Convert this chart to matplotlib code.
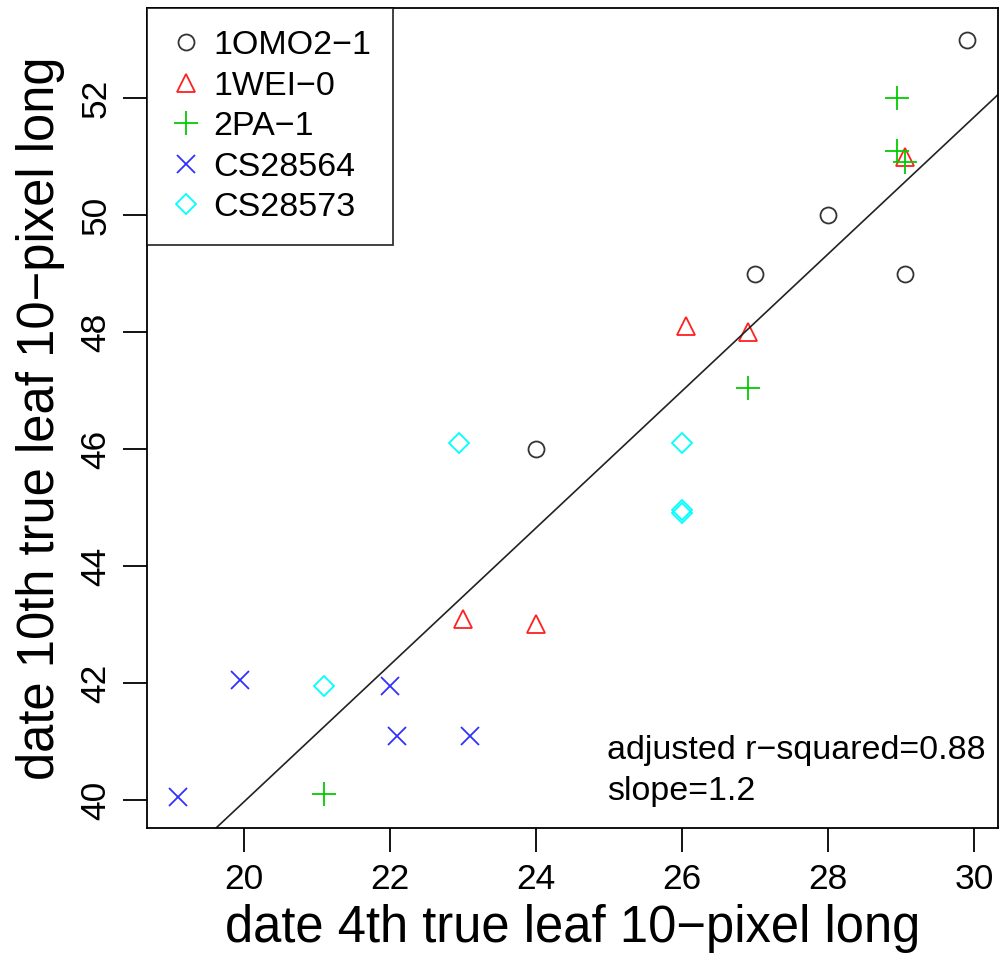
import numpy as np
import matplotlib
matplotlib.use('Agg')
from matplotlib import pyplot as plt
from matplotlib.lines import Line2D

plt.rcParams['font.family'] = ['Liberation Sans', 'DejaVu Sans']

# data
groups = ['1OMO2-1', '1WEI-0', '2PA-1', 'CS28564', 'CS28573']
x_omo = [24.0, 27.0, 28.0, 29.05, 29.9]
y_omo = [46.0, 49.0, 50.0, 49.0, 53.0]
x_wei = [23.0, 24.0, 26.05, 26.9, 29.05]
y_wei = [43.1, 43.0, 48.1, 48.0, 51.0]
x_pa = [21.1, 26.9, 28.95, 28.95, 29.05]
y_pa = [40.1, 47.05, 52.0, 51.1, 50.9]
x_cs64 = [19.1, 19.95, 22.0, 22.1, 23.1]
y_cs64 = [40.05, 42.05, 41.95, 41.1, 41.1]
x_cs73 = [21.1, 22.95, 26.0, 26.0, 26.0]
y_cs73 = [41.95, 46.1, 46.1, 44.95, 44.9]
xticks = [20, 22, 24, 26, 28, 30]
yticks = [40, 42, 44, 46, 48, 50, 52]

xs = [x_omo, x_wei, x_pa, x_cs64, x_cs73]
ys = [y_omo, y_wei, y_pa, y_cs64, y_cs73]
colors = ['#333333', '#FF2020', '#00CD00', '#3030FF', '#00FFFF']
markers = ['o', '^', '+', 'x', 'D']
msizes = [11.5, 13.5, 17, 12.5, 10]

fig = plt.figure(figsize=(10, 9.61), dpi=100)
ax = fig.add_axes([0.147, 0.1384, 0.851, 0.8533])

for x, y, c, m, s, g in zip(xs, ys, colors, markers, msizes, groups):
    ax.plot(x, y, linestyle='none', marker=m, markersize=s,
            markerfacecolor='none', markeredgecolor=c, markeredgewidth=1.3, label=g)

# regression line over all points
allx = np.concatenate([np.array(v) for v in xs])
ally = np.concatenate([np.array(v) for v in ys])
b, a = np.polyfit(allx, ally, 1)
lx = np.array([18.0, 31.0])
ax.plot(lx, a + b * lx, color='#222222', linewidth=1.2)

ax.set_xlim(18.67, 30.33)
ax.set_ylim(39.52, 53.54)
ax.set_xticks(xticks)
ax.set_yticks(yticks)
ax.tick_params(axis='both', direction='out', length=17, width=1.3, labelsize=25.5, pad=8)
for lab in ax.get_yticklabels():
    lab.set_rotation(90)
    lab.set_va('center')
for sp in ax.spines.values():
    sp.set_linewidth(1.3)

ax.set_xlabel('date 4th true leaf 10\u2212pixel long', fontsize=36.5, labelpad=6)
ax.set_ylabel('date 10th true leaf 10\u2212pixel long', fontsize=36.5, labelpad=10)

ax.text(0.5405, 0.094, 'adjusted r\u2212squared=0.88', transform=ax.transAxes,
        fontsize=24.5, va='center', ha='left')
ax.text(0.5405, 0.044, 'slope=1.2', transform=ax.transAxes,
        fontsize=24.5, va='center', ha='left')

handles = [Line2D([], [], linestyle='none', marker=m, markersize=s,
                  markerfacecolor='none', markeredgecolor=c, markeredgewidth=1.3)
           for c, m, s in zip(colors, markers, msizes)]
leg = ax.legend(handles, [g.replace('-', '\u2212') for g in groups], loc='upper left',
                bbox_to_anchor=(0, 1), fontsize=24.5, frameon=True, fancybox=False,
                edgecolor='black', borderaxespad=0, handletextpad=0.3,
                labelspacing=0.28, borderpad=0.65, handlelength=1.0)
leg.get_frame().set_linewidth(1.3)

plt.savefig('out.png')
